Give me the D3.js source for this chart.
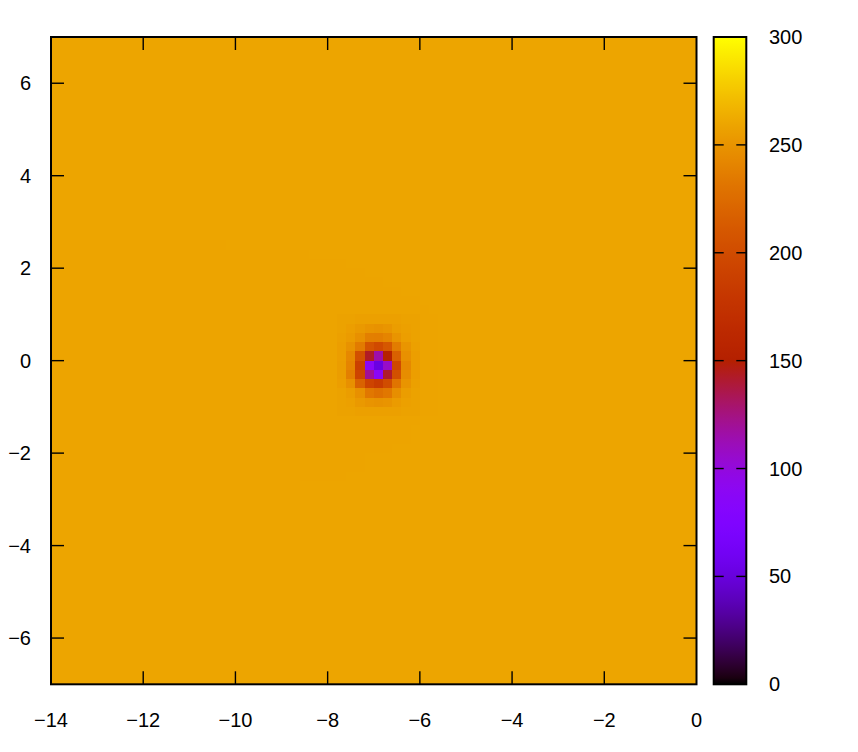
<!DOCTYPE html>
<html>
<head>
<meta charset="utf-8">
<script src="https://cdn.jsdelivr.net/npm/d3@7"></script>
<style>
  html, body { margin: 0; padding: 0; background: #fff; }
  svg { display: block; }
  text { font-family: "Liberation Sans", Arial, sans-serif; font-size: 20px; fill: #000; }
</style>
</head>
<body>
<svg id="chart" width="858" height="752"></svg>
<script>
// ---------------- data ----------------
const xDomain = [-14, 0];
const yDomain = [-7, 7];
const cellStep = 0.2;                 // grid spacing of the map
const colorDomain = [0, 300];

const xTickValues = [-14, -12, -10, -8, -6, -4, -2, 0];
const yTickValues = [-6, -4, -2, 0, 2, 4, 6];
const cbTickValues = [0, 50, 100, 150, 200, 250, 300];

const backgroundValue = 259.5;        // flat field value
const lobeValue = 258.7;              // faint slightly lower region left of the dip

// faint lobe: row top edge (y) and the x where the lower region ends (it starts at x = -14)
const lobeRowTop = [2.6, 2.4, 2.2, 2.0, 1.8, 1.6, 1.4, 1.2, 1.0, 0.8, 0.6, 0.4, 0.2, 0.0,
                    -0.2, -0.4, -0.6, -0.8, -1.0, -1.2, -1.4, -1.6, -1.8, -2.0, -2.2, -2.4, -2.6];
const lobeRowEnd = [-10.2, -8.4, -7.6, -7.2, -6.8, -6.4, -6.0, -5.8, -5.6, -5.6, -5.6, -5.6, -5.6, -5.6,
                    -5.6, -5.6, -5.6, -5.6, -5.6, -6.0, -6.2, -6.2, -6.6, -7.2, -7.2, -7.6, -8.6];

// the dip around (-7, 0): cell left edges (x), cell top edges (y), values
const coreX = [-7.8, -7.6, -7.4, -7.2, -7.0, -6.8, -6.6, -6.4, -6.2];
const coreY = [1.0, 0.8, 0.6, 0.4, 0.2, 0.0, -0.2, -0.4, -0.6, -0.8, -1.0];
const coreValues = [
  [258, 258, 257, 257, 257, 257, 257, 258, 258],
  [258, 256, 253, 250, 249, 251, 255, 257, 258],
  [257, 254, 248, 238, 237, 241, 250, 256, 258],
  [256, 249, 235, 207, 199, 210, 236, 251, 257],
  [256, 243, 204, 143, 115, 153, 217, 248, 256],
  [255, 241, 189,  88,  52, 107, 197, 244, 256],
  [255, 238, 193, 120,  88, 142, 204, 246, 256],
  [256, 248, 218, 193, 185, 200, 231, 250, 257],
  [258, 255, 248, 233, 228, 233, 247, 255, 258],
  [258, 257, 253, 250, 249, 250, 254, 257, 258],
  [258, 258, 257, 257, 257, 257, 257, 258, 258]
];

// ---------------- build the grid table ----------------
const nx = Math.round((xDomain[1] - xDomain[0]) / cellStep);
const ny = Math.round((yDomain[1] - yDomain[0]) / cellStep);
const key = (a, b) => Math.round(a * 10) + "_" + Math.round(b * 10);
const lobeMap = new Map(lobeRowTop.map((y, i) => [Math.round(y * 10), lobeRowEnd[i]]));
const coreMap = new Map();
coreY.forEach((y, j) => coreX.forEach((x, i) => coreMap.set(key(x, y), coreValues[j][i])));

const cells = [];
for (let j = 0; j < ny; j++) {
  const yTop = +(yDomain[1] - j * cellStep).toFixed(2);
  for (let i = 0; i < nx; i++) {
    const x0 = +(xDomain[0] + i * cellStep).toFixed(2);
    let v = backgroundValue;
    const le = lobeMap.get(Math.round(yTop * 10));
    if (le !== undefined && x0 < le - 1e-6) v = lobeValue;
    const k = key(x0, yTop);
    if (coreMap.has(k)) v = coreMap.get(k);
    cells.push({ x0, yTop, v });
  }
}

// ---------------- gnuplot palette rgbformulae 7,5,15 ----------------
function palette(t) {
  t = Math.max(0, Math.min(1, t));
  const r = Math.sqrt(t);
  const g = t * t * t;
  const b = Math.max(0, Math.sin(2 * Math.PI * t));
  return d3.rgb(Math.round(r * 255), Math.round(g * 255), Math.round(b * 255)).toString();
}
const colorT = d3.scaleLinear().domain(colorDomain).range([0, 1]).clamp(true);
const color = v => palette(colorT(v));

// ---------------- layout ----------------
const svg = d3.select("#chart");
const plot = { left: 51, right: 696.5, top: 37, bottom: 684.3 };
const cb = { left: 713.7, right: 746.3, top: 37, bottom: 684.3 };

const x = d3.scaleLinear().domain(xDomain).range([plot.left, plot.right]);
const y = d3.scaleLinear().domain(yDomain).range([plot.bottom, plot.top]);
const cy = d3.scaleLinear().domain(colorDomain).range([cb.bottom, cb.top]);

// cells
svg.append("g")
  .attr("shape-rendering", "crispEdges")
  .selectAll("rect").data(cells).join("rect")
  .attr("x", d => Math.round(x(d.x0)))
  .attr("y", d => Math.round(y(d.yTop)))
  .attr("width", d => Math.round(x(d.x0 + cellStep)) - Math.round(x(d.x0)))
  .attr("height", d => Math.round(y(d.yTop - cellStep)) - Math.round(y(d.yTop)))
  .attr("fill", d => color(d.v));

// colorbar gradient
const defs = svg.append("defs");
const grad = defs.append("linearGradient").attr("id", "cbgrad")
  .attr("x1", 0).attr("y1", 1).attr("x2", 0).attr("y2", 0);
d3.range(0, 101).forEach(i => {
  grad.append("stop").attr("offset", (i) + "%").attr("stop-color", palette(i / 100));
});
svg.append("rect")
  .attr("x", cb.left).attr("y", cb.top)
  .attr("width", cb.right - cb.left).attr("height", cb.bottom - cb.top)
  .attr("fill", "url(#cbgrad)");

// ticks (inward, mirrored)
const tickLen = 13;
const tg = svg.append("g").attr("stroke", "#000").attr("stroke-width", 1.4);
xTickValues.forEach(v => {
  if (v === xDomain[0] || v === xDomain[1]) return;
  tg.append("line").attr("x1", x(v)).attr("x2", x(v)).attr("y1", plot.bottom).attr("y2", plot.bottom - tickLen);
  tg.append("line").attr("x1", x(v)).attr("x2", x(v)).attr("y1", plot.top).attr("y2", plot.top + tickLen);
});
yTickValues.forEach(v => {
  tg.append("line").attr("x1", plot.left).attr("x2", plot.left + tickLen).attr("y1", y(v)).attr("y2", y(v));
  tg.append("line").attr("x1", plot.right).attr("x2", plot.right - tickLen).attr("y1", y(v)).attr("y2", y(v));
});
cbTickValues.forEach(v => {
  if (v === colorDomain[0] || v === colorDomain[1]) return;
  tg.append("line").attr("x1", cb.left).attr("x2", cb.left + 10).attr("y1", cy(v)).attr("y2", cy(v));
  tg.append("line").attr("x1", cb.right).attr("x2", cb.right - 10).attr("y1", cy(v)).attr("y2", cy(v));
});

// borders
svg.append("rect")
  .attr("x", plot.left).attr("y", plot.top)
  .attr("width", plot.right - plot.left).attr("height", plot.bottom - plot.top)
  .attr("fill", "none").attr("stroke", "#000").attr("stroke-width", 2);
svg.append("rect")
  .attr("x", cb.left).attr("y", cb.top)
  .attr("width", cb.right - cb.left).attr("height", cb.bottom - cb.top)
  .attr("fill", "none").attr("stroke", "#000").attr("stroke-width", 2);

// labels
const fmt = v => (v < 0 ? "\u2212" + Math.abs(v) : String(v));
svg.append("g").selectAll("text").data(xTickValues).join("text")
  .attr("x", d => x(d)).attr("y", 727).attr("text-anchor", "middle").text(fmt);
svg.append("g").selectAll("text").data(yTickValues).join("text")
  .attr("x", 31).attr("y", d => y(d) + 7).attr("text-anchor", "end").text(fmt);
svg.append("g").selectAll("text").data(cbTickValues).join("text")
  .attr("x", 769).attr("y", d => cy(d) + 7).attr("text-anchor", "start").text(fmt);
</script>
</body>
</html>
